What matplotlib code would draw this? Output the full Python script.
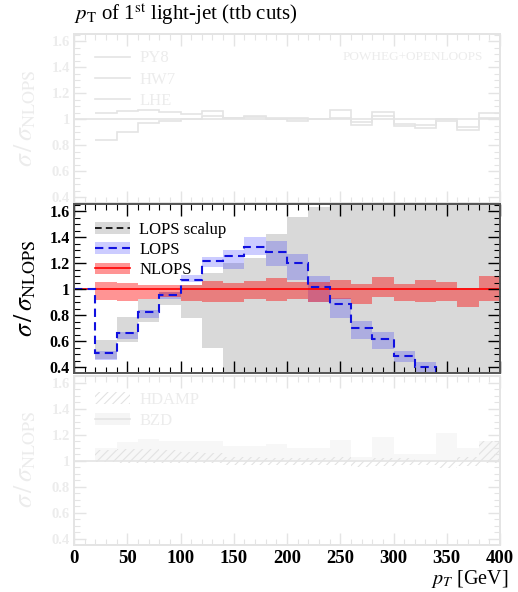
import matplotlib
matplotlib.use("Agg")
import matplotlib.pyplot as plt
import numpy as np
from matplotlib.ticker import MultipleLocator, FuncFormatter
from matplotlib.lines import Line2D
from matplotlib.patches import Patch

plt.rcParams["font.family"] = ["Liberation Serif", "DejaVu Serif"]
plt.rcParams["mathtext.fontset"] = "stix"
plt.rcParams["hatch.linewidth"] = 0.8

# 20 GeV bins, 0 - 400 GeV
edges = np.arange(0, 420, 20)

# ratio panel: LOPS / NLOPS
lops = [1.00, 0.51, 0.665, 0.825, 0.96, 1.075, 1.22, 1.255, 1.325, 1.29,
        1.20, 1.02, 0.885, 0.70, 0.62, 0.49, 0.40, 0.31, 0.27, 0.22]
lops_lo = [1.00, 0.46, 0.62, 0.78, 0.925, 1.055, 1.17, 1.16, 1.265, 1.18,
           1.07, 0.90, 0.78, 0.62, 0.545, 0.44, 0.33, 0.26, 0.22, 0.18]
lops_hi = [1.00, 0.53, 0.67, 0.84, 0.98, 1.11, 1.25, 1.30, 1.40, 1.37,
           1.27, 1.10, 0.935, 0.755, 0.67, 0.53, 0.44, 0.36, 0.31, 0.26]

# LOPS scalup variation band
scalup_lo = [1.00, 0.465, 0.595, 0.75, 0.88, 0.777, 0.55, 0.20, 0.20, 0.20,
             0.20, 0.20, 0.20, 0.20, 0.20, 0.20, 0.20, 0.20, 0.20, 0.20]
scalup_hi = [1.00, 0.613, 0.787, 0.928, 0.982, 1.033, 1.13, 1.20, 1.24, 1.425,
             1.555, 1.635, 1.80, 1.80, 1.80, 1.80, 1.80, 1.80, 1.80, 1.80]

# NLOPS uncertainty band
nlops = [1.0] * 20
nlops_lo = [1.00, 0.918, 0.91, 0.926, 0.944, 0.91, 0.905, 0.90, 0.926, 0.91,
            0.925, 0.90, 0.93, 0.885, 0.94, 0.91, 0.90, 0.915, 0.865, 0.91]
nlops_hi = [1.00, 1.054, 1.046, 1.038, 1.038, 1.035, 1.065, 1.046, 1.064, 1.085,
            1.055, 1.055, 1.07, 1.04, 1.095, 1.045, 1.07, 1.055, 1.015, 1.10]

# shower comparison (bins from 20 GeV)
py8 = [1.0] * 20
hw7 = [0.84, 0.90, 0.97, 0.987, 1.0, 1.026, 1.008, 1.018, 1.0, 0.987,
       1.005, 1.008, 0.954, 1.026, 0.95, 0.936, 0.987, 0.92, 1.008]
lhe = [1.051, 1.064, 1.07, 1.06, 1.045, 1.065, 1.013, 1.03, 1.008, 1.013,
       1.0, 1.07, 0.98, 1.056, 0.967, 0.954, 1.0, 0.94, 1.05]

# hdamp / bzd comparison (bins from 20 GeV)
hdamp_lo = [0.99, 0.98, 0.98, 0.98, 0.98, 0.98, 0.97, 0.97, 0.97, 0.97,
            0.97, 0.97, 0.95, 0.96, 0.97, 0.97, 0.94, 0.96, 0.98]
hdamp_hi = [1.08, 1.09, 1.09, 1.08, 1.07, 1.06, 1.03, 1.03, 1.02, 1.02,
            1.02, 1.03, 1.00, 1.02, 1.02, 1.00, 1.00, 1.03, 1.15]
bzd = [1.10, 1.14, 1.17, 1.15, 1.15, 1.15, 1.11, 1.11, 1.13, 1.10,
       1.10, 1.16, 1.03, 1.18, 1.05, 1.05, 1.21, 1.10, 1.15]

W, H = 518, 592
FADE = "#e4e4e4"
FADE_TXT = "#ececec"


def box(x0, y0, x1, y1):
    return [x0 / W, 1 - y1 / H, (x1 - x0) / W, (y1 - y0) / H]


def style(ax, spine, tick, labels, labelsize):
    ax.set_xlim(0, 400)
    ax.set_ylim(0.355, 1.655)
    ax.xaxis.set_major_locator(MultipleLocator(50))
    ax.xaxis.set_minor_locator(MultipleLocator(10))
    ax.yaxis.set_major_locator(MultipleLocator(0.2))
    ax.yaxis.set_minor_locator(MultipleLocator(0.05))
    ax.yaxis.set_major_formatter(FuncFormatter(lambda v, p: "%g" % round(v, 2)))
    ax.tick_params(which="both", direction="in", top=True, right=True,
                   color=tick, labelbottom=False, pad=3)
    ax.tick_params(which="major", length=8.5, width=1.0)
    ax.tick_params(which="minor", length=4.3, width=0.8)
    ax.tick_params(axis="y", labelsize=labelsize, labelcolor=labels)
    for lab in ax.get_yticklabels():
        lab.set_fontweight("bold")
    for s in ax.spines.values():
        s.set_color(spine)
        s.set_linewidth(1.4)
    ax.set_ylabel(r"$\sigma\,/\,\sigma_{\mathrm{NLOPS}}$", fontsize=18.5,
                  color=labels)
    ax.yaxis.set_label_coords(-0.085, 0.5)


fig = plt.figure(figsize=(W / 100, H / 100), dpi=100)
fig.text(74 / W, 1 - 20 / H, r"$p_\mathrm{T}$ of 1$^\mathrm{st}$ light-jet (ttb cuts)",
         ha="left", va="baseline", fontsize=15)

# upper panel: PY8 / HW7 / LHE
ax1 = fig.add_axes(box(74, 34.3, 500, 203.3))
style(ax1, FADE, FADE, FADE_TXT, 10.5)
ax1.stairs(py8, edges, baseline=None, color=FADE, lw=1.2)
ax1.stairs(hw7, edges[1:], baseline=None, color=FADE, lw=1.2)
ax1.stairs(lhe, edges[1:], baseline=None, color=FADE, lw=1.2)
h1 = [Line2D([], [], color=FADE, lw=1.2) for _ in range(3)]
ax1.legend(h1, ["PY8", "HW7", "LHE"], loc="upper left", frameon=False,
           bbox_to_anchor=(0.05, 0.905), borderaxespad=0, borderpad=0,
           fontsize=12, labelcolor=FADE_TXT, handlelength=2.1,
           handletextpad=0.55, labelspacing=0.32)
ax1.text(0.96, 0.865, "POWHEG+OPENLOOPS", transform=ax1.transAxes,
         ha="right", va="center", fontsize=9.5, color=FADE_TXT)

# lower panel: HDAMP / BZD
ax3 = fig.add_axes(box(74, 375.5, 500, 544.5))
style(ax3, FADE, FADE, FADE_TXT, 10.5)
ax3.stairs(bzd, edges[1:], baseline=1.0, fill=True, color="#f7f7f7", lw=0)
ax3.stairs(hdamp_hi, edges[1:], baseline=hdamp_lo, fill=True,
           facecolor="none", edgecolor="#e2e2e2", hatch="////", lw=0)
ax3.axhline(1.0, color=FADE, lw=1.2)
h3 = [Patch(facecolor="none", edgecolor="#e2e2e2", hatch="////", lw=0),
      (Patch(facecolor="#f5f5f5", lw=0), Line2D([], [], color=FADE, lw=1.2))]
ax3.legend(h3, ["HDAMP", "BZD"], loc="upper left", frameon=False,
           bbox_to_anchor=(0.05, 0.905), borderaxespad=0, borderpad=0,
           fontsize=12, labelcolor=FADE_TXT, handlelength=2.1,
           handletextpad=0.55, labelspacing=0.32)
ax3.tick_params(axis="x", labelbottom=True, labelsize=13.5, labelcolor="black", pad=4)
for lab in ax3.get_xticklabels():
    lab.set_fontweight("bold")
ax3.set_xlabel(r"$p_T$ [GeV]", fontsize=14.5, ha="right")
ax3.xaxis.set_label_coords((508 - 74) / 426, -0.142)

# middle panel: LOPS scalup / LOPS / NLOPS
ax2 = fig.add_axes(box(74, 204.3, 500, 373.3))
style(ax2, "#555555", "black", "black", 11.5)
ax2.set_facecolor("white")
ax2.stairs(scalup_hi, edges, baseline=scalup_lo, fill=True, color="#d9d9d9", lw=0)
ax2.stairs(lops_hi, edges, baseline=lops_lo, fill=True, color="blue", alpha=0.2, lw=0)
ax2.stairs(nlops_hi, edges, baseline=nlops_lo, fill=True, color="red", alpha=0.42, lw=0)
ax2.stairs(nlops, edges, baseline=None, color="red", lw=1.2)
ax2.stairs(lops, edges, baseline=None, color="#1010e0", lw=1.5,
           linestyle=(0, (4, 2.5)))

h2 = [(Patch(color="#d9d9d9", lw=0), Line2D([], [], color="black", lw=1.2, ls=(0, (4, 2.5)))),
      (Patch(color="blue", alpha=0.2, lw=0), Line2D([], [], color="#1010e0", lw=1.5, ls=(0, (4, 2.5)))),
      (Patch(color="red", alpha=0.42, lw=0), Line2D([], [], color="red", lw=1.2))]
ax2.legend(h2, ["LOPS scalup", "LOPS", "NLOPS"], loc="upper left", frameon=False,
           bbox_to_anchor=(0.05, 0.896), borderaxespad=0, borderpad=0,
           fontsize=12, handlelength=2.1, handletextpad=0.55, labelspacing=0.25)

fig.savefig("out.png", dpi=100)
